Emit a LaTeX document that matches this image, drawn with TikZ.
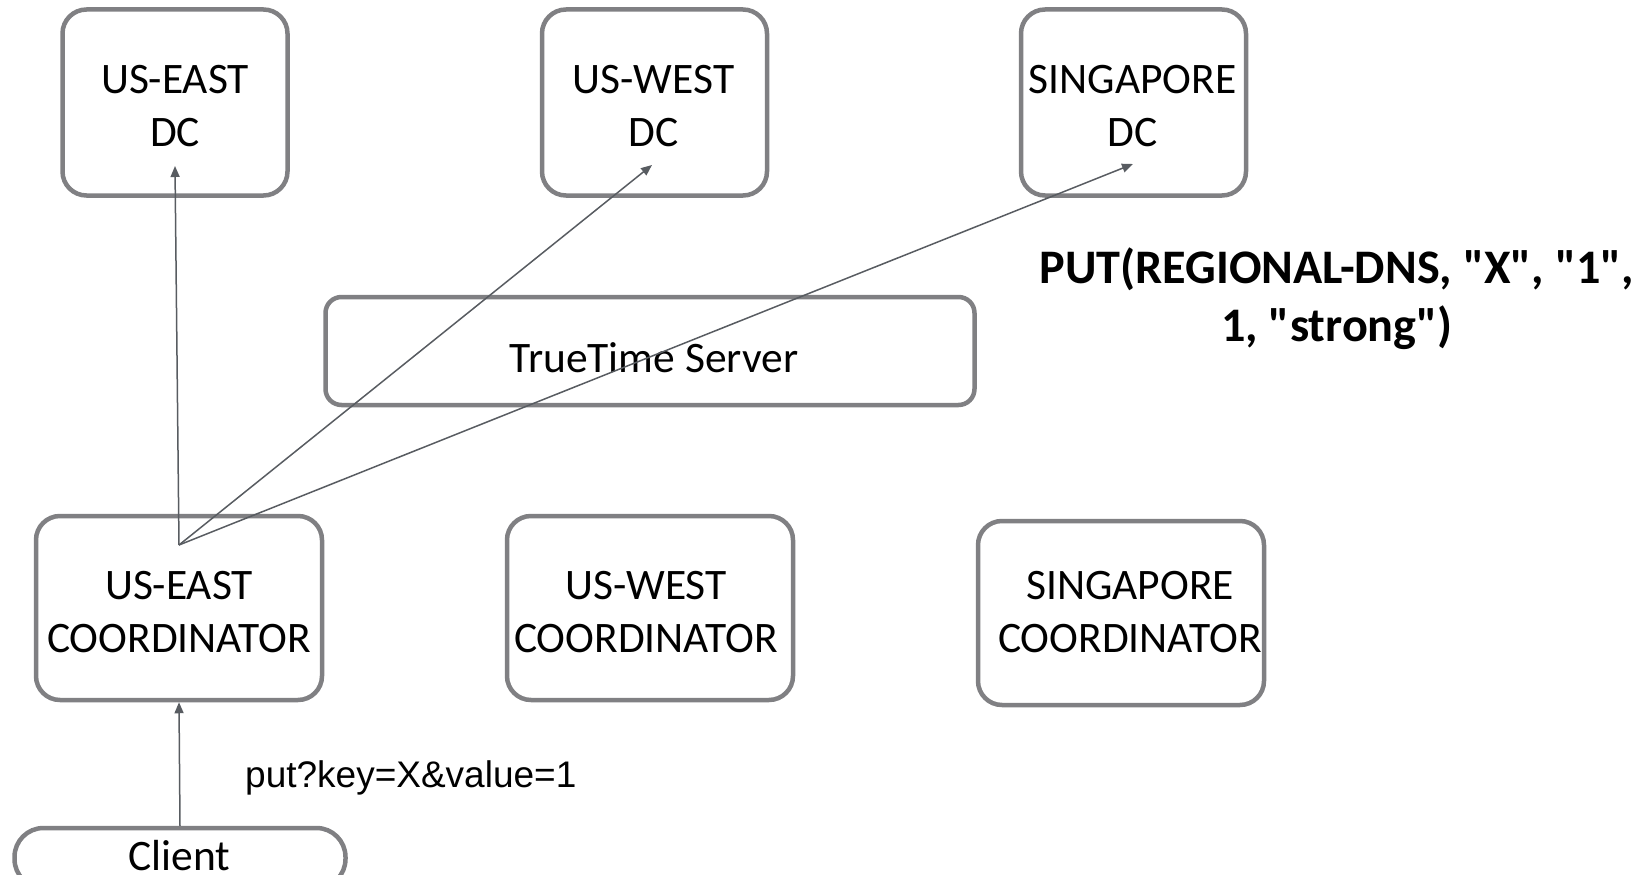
\documentclass[tikz,border=0pt]{standalone}
\usepackage{fontspec}
\setmainfont{Carlito}
\newfontfamily\stmtfont[Ligatures=TeXOff]{Carlito}
\newfontfamily\arialfont{Liberation Sans}
\usetikzlibrary{arrows.meta}
\definecolor{boxgray}{RGB}{128,128,131}
\definecolor{linkgray}{RGB}{88,92,97}
\begin{document}
\begin{tikzpicture}[x=1pt,y=-1pt,
  box/.style={draw=boxgray, line width=4.5pt, inner sep=0pt},
  site/.style={box, rounded corners=24pt, minimum width=225pt, minimum height=186pt},
  coord/.style={box, rounded corners=24pt, minimum width=286pt, minimum height=184pt},
  boxtext/.style={inner sep=0pt, align=center, font=\fontsize{43.5}{53}\selectfont},
  link/.style={draw=linkgray, line width=1.5pt, -{Triangle[length=11pt,width=9pt]}},
  plain/.style={inner sep=0pt, align=center}]
\useasboundingbox (0,0) rectangle (1650,875);

% data centres
\node[site] (eastdc) at (175,102.5) {};
\node[boxtext] (eastdctxt) at (175,106) {US-EAST\\DC};
\node[site] (westdc) at (654.5,102.5) {};
\node[boxtext] (westdctxt) at (653.5,106) {US-WEST\\DC};
\node[site] (sgdc) at (1133.5,102.5) {};
\node[boxtext] (sgdctxt) at (1132.5,106) {SINGAPORE\\DC};

% time service
\node[box, rounded corners=16pt, minimum width=649pt, minimum height=108pt] (tt) at (650,351) {};
\node[boxtext] (tttxt) at (654,358) {TrueTime Server};

% coordinators
\node[coord] (eastco) at (179,608) {};
\node[boxtext] (eastcotxt) at (179,612) {US-EAST\\COORDINATOR};
\node[coord] (westco) at (650,608) {};
\node[boxtext] (westcotxt) at (646,612) {US-WEST\\COORDINATOR};
\node[coord] (sgco) at (1121,613) {};
\node[boxtext] (sgcotxt) at (1130,612) {SINGAPORE\\COORDINATOR};

% client
\node[box, rounded corners=29pt, minimum width=331pt, minimum height=60pt] (client) at (180,858) {};
\node[boxtext] (clienttxt) at (179.5,856) {Client};

% request label and statement
\node[plain, anchor=west, font=\arialfont\fontsize{37}{40}\selectfont] (req) at (245,778) {put?key=X\&value=1};
\node[plain, font=\stmtfont\bfseries\fontsize{48.2}{58}\selectfont] (stmt) at (1337,299) {PUT(REGIONAL-DNS, "X", "1",\\1, "strong")};

% fan-out from the coordinator
\coordinate (src) at (179,545);
\coordinate (tipE) at (175,166);
\coordinate (tipW) at (652,165);
\coordinate (tipS) at (1133,164);
\draw[link] (src) -- (tipE);
\draw[link] (src) -- (tipW);
\draw[link] (src) -- (tipS);
\draw[link] (client.north) -- (eastco.south);
\end{tikzpicture}
\end{document}
